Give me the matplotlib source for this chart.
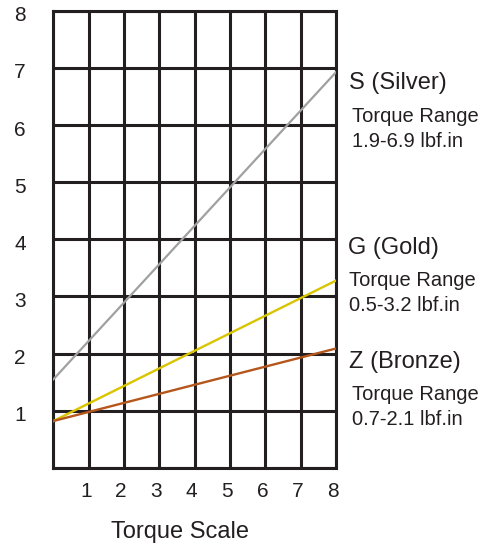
import matplotlib
matplotlib.use("Agg")
import matplotlib.pyplot as plt
from matplotlib.transforms import ScaledTranslation

plt.rcParams['font.family'] = ['Liberation Sans', 'DejaVu Sans']

# torque scale positions (ends of each line)
scale = [0, 8]
silver = [1.55, 6.93]
gold = [0.82, 3.28]
bronze = [0.82, 2.09]

tick_labels = ['1', '2', '3', '4', '5', '6', '7', '8']

labels = [
    # name, range text, (x, y name baseline), (x, y first range line baseline)
    ("S (Silver)", "1.9-6.9 lbf.in", (8.36, 6.63), (8.45, 6.05)),
    ("G (Gold)", "0.5-3.2 lbf.in", (8.33, 3.74), (8.36, 3.19)),
    ("Z (Bronze)", "0.7-2.1 lbf.in", (8.36, 1.75), (8.45, 1.19)),
]

fig = plt.figure(figsize=(4.9, 5.44), dpi=100)
ax = fig.add_axes([0.109, 0.14, 0.577, 0.84])

grid_col = '#231f20'
ax.set_xlim(0, 8)
ax.set_ylim(0, 8)
ax.set_xticks(range(0, 9))
ax.set_yticks(range(0, 9))
ax.set_xticklabels([''] + tick_labels)
ax.set_yticklabels([''] + tick_labels)
ax.grid(True, color=grid_col, linewidth=2.2)
ax.set_axisbelow(True)
for sp in ax.spines.values():
    sp.set_color(grid_col)
    sp.set_linewidth(2.2)
ax.tick_params(length=0, labelsize=15, colors='#231f20')
ax.tick_params(axis='x', pad=10)
ax.tick_params(axis='y', pad=20)
xshift = ScaledTranslation(-3 / 100, 0, fig.dpi_scale_trans)
for lab in ax.get_xticklabels():
    lab.set_transform(lab.get_transform() + xshift)
yshift = ScaledTranslation(0, -3 / 100, fig.dpi_scale_trans)
for lab in ax.get_yticklabels():
    lab.set_transform(lab.get_transform() + yshift)

ax.plot(scale, silver, color='#a0a0a0', lw=1.6, zorder=3)
ax.plot(scale, gold, color='#d9c400', lw=1.7, zorder=3)
ax.plot(scale, bronze, color='#b5561c', lw=1.7, zorder=3)

for name, rng, p1, p2 in labels:
    ax.text(p1[0], p1[1], name, fontsize=17, va='baseline', ha='left',
            color='#231f20', clip_on=False)
    ax.text(p2[0], p2[1], "Torque Range", fontsize=14.5, va='baseline',
            ha='left', color='#231f20', clip_on=False)
    ax.text(p2[0], p2[1] - 0.44, rng, fontsize=14.5, va='baseline',
            ha='left', color='#231f20', clip_on=False)

fig.text(180 / 490, 0.011, "Torque Scale", fontsize=17, ha='center',
         va='baseline', color='#231f20')

fig.savefig("out.png", dpi=100)
